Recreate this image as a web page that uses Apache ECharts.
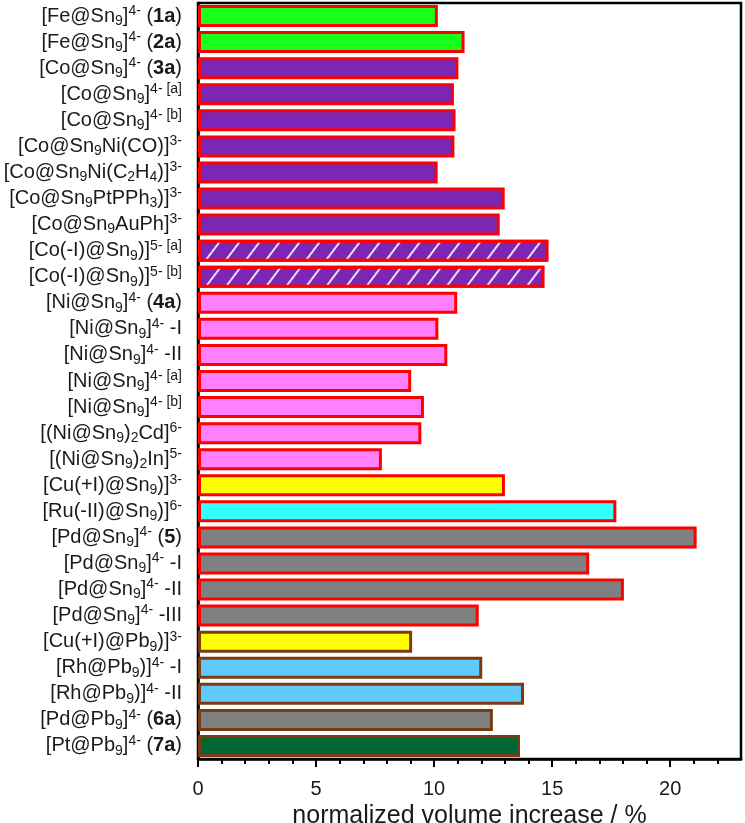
<!DOCTYPE html>
<html>
<head>
<meta charset="utf-8">
<script src="https://cdn.jsdelivr.net/npm/echarts@6/dist/echarts.min.js"></script>
<style>
  html, body { margin: 0; padding: 0; background: #fff; }
  #chart { width: 745px; height: 823px; }
</style>
</head>
<body>
<div id="chart"></div>
<script>
// 标签: _{..} 下标, ^{..} 上标, *{..} 粗体
const categories = [
  '[Fe@Sn_{9}]^{4-} (*{1a})',
  '[Fe@Sn_{9}]^{4-} (*{2a})',
  '[Co@Sn_{9}]^{4-} (*{3a})',
  '[Co@Sn_{9}]^{4- [a]}',
  '[Co@Sn_{9}]^{4- [b]}',
  '[Co@Sn_{9}Ni(CO)]^{3-}',
  '[Co@Sn_{9}Ni(C_{2}H_{4})]^{3-}',
  '[Co@Sn_{9}PtPPh_{3})]^{3-}',
  '[Co@Sn_{9}AuPh]^{3-}',
  '[Co(-I)@Sn_{9})]^{5- [a]}',
  '[Co(-I)@Sn_{9})]^{5- [b]}',
  '[Ni@Sn_{9}]^{4-} (*{4a})',
  '[Ni@Sn_{9}]^{4-} -I',
  '[Ni@Sn_{9}]^{4-} -II',
  '[Ni@Sn_{9}]^{4- [a]}',
  '[Ni@Sn_{9}]^{4- [b]}',
  '[(Ni@Sn_{9})_{2}Cd]^{6-}',
  '[(Ni@Sn_{9})_{2}In]^{5-}',
  '[Cu(+I)@Sn_{9})]^{3-}',
  '[Ru(-II)@Sn_{9})]^{6-}',
  '[Pd@Sn_{9}]^{4-} (*{5})',
  '[Pd@Sn_{9}]^{4-} -I',
  '[Pd@Sn_{9}]^{4-} -II',
  '[Pd@Sn_{9}]^{4-} -III',
  '[Cu(+I)@Pb_{9})]^{3-}',
  '[Rh@Pb_{9})]^{4-} -I',
  '[Rh@Pb_{9})]^{4-} -II',
  '[Pd@Pb_{9}]^{4-} (*{6a})',
  '[Pt@Pb_{9}]^{4-} (*{7a})'
]
const values = [
  10.16, 11.29, 11.03, 10.84, 10.91, 10.86, 10.15, 12.99, 12.78, 14.84, 14.67,
  10.98, 10.18, 10.56, 9.03, 9.57, 9.46, 7.79, 13.0, 17.72,
  21.12, 16.57, 18.04, 11.89, 9.07, 12.04, 13.81, 12.49, 13.64
]
// 中心金属 / 笼
const metals = [
  'Fe', 'Fe', 'Co', 'Co', 'Co', 'Co', 'Co', 'Co', 'Co', 'Co-I', 'Co-I',
  'Ni', 'Ni', 'Ni', 'Ni', 'Ni', 'Ni', 'Ni', 'Cu', 'Ru',
  'Pd', 'Pd', 'Pd', 'Pd', 'Cu', 'Rh', 'Rh', 'Pd', 'Pt'
]
const cages = [
  'Sn', 'Sn', 'Sn', 'Sn', 'Sn', 'Sn', 'Sn', 'Sn', 'Sn', 'Sn', 'Sn',
  'Sn', 'Sn', 'Sn', 'Sn', 'Sn', 'Sn', 'Sn', 'Sn', 'Sn',
  'Sn', 'Sn', 'Sn', 'Sn', 'Pb', 'Pb', 'Pb', 'Pb', 'Pb'
]
const majorTicks = [0, 5, 10, 15, 20]
const minorTicks = [1, 2, 3, 4, 6, 7, 8, 9, 11, 12, 13, 14, 16, 17, 18, 19, 21, 22]

const fillColor = {
  Fe: '#19ff19', Co: '#7b26b5', 'Co-I': '#7b26b5', Ni: '#ff80ff', Cu: '#ffff00',
  Ru: '#33ffff', Pd: '#808080', Rh: '#60cbfb', Pt: '#006633'
}
const edgeColor = { Sn: '#ff0000', Pb: '#7a3b12' }
const FONT = 'Liberation Sans, Arial, sans-serif'
const TXT = '#1a1a1a'

// 转成富文本
function toRich(s) {
  let out = ''
  let last = 0
  const re = /(_|\^|\*)\{([^}]*)\}/g
  let m
  while ((m = re.exec(s)) !== null) {
    if (m.index > last) out += '{n|' + s.slice(last, m.index) + '}'
    const key = m[1] === '_' ? 'sub' : m[1] === '^' ? 'sup' : 'b'
    out += '{' + key + '|' + m[2] + '}'
    last = re.lastIndex
  }
  if (last < s.length) out += '{n|' + s.slice(last) + '}'
  return out
}

const chart = echarts.init(document.getElementById('chart'))

const seriesData = values.map((v, i) => {
  const style = {
    color: fillColor[metals[i]],
    borderColor: edgeColor[cages[i]],
    borderWidth: 3
  }
  if (metals[i] === 'Co-I') {
    style.decal = {
      symbol: 'rect',
      color: 'rgba(255,255,255,0.85)',
      dashArrayX: [[1, 0]],
      dashArrayY: [1.5, 14],
      rotation: -Math.PI / 3.4
    }
  }
  return { value: v, itemStyle: style }
})

const option = {
  animation: false,
  grid: {
    left: 198, right: 4, top: 3, bottom: 64,
    outerBoundsMode: 'none',
    containLabel: false,
    show: true, borderColor: '#000', borderWidth: 2.5, backgroundColor: 'transparent'
  },
  xAxis: [
    {
      type: 'value', min: 0, max: 23, interval: 5, position: 'bottom',
      axisLine: { show: true, lineStyle: { color: '#000', width: 2.5 } },
      axisTick: { show: true, customValues: majorTicks, length: 8, lineStyle: { color: '#000', width: 2 } },
      axisLabel: { customValues: majorTicks, fontSize: 20, fontFamily: FONT, color: TXT, margin: 20 },
      splitLine: { show: false },
      name: 'normalized volume increase / %',
      nameLocation: 'middle',
      nameGap: 41,
      nameTextStyle: { fontSize: 25, fontFamily: FONT, color: TXT }
    },
    {
      type: 'value', min: 0, max: 23, position: 'bottom',
      axisLine: { show: false },
      axisTick: { show: true, customValues: minorTicks, length: 5, lineStyle: { color: '#000', width: 2 } },
      axisLabel: { show: false },
      splitLine: { show: false }
    }
  ],
  yAxis: {
    type: 'category',
    inverse: true,
    data: categories,
    axisLine: { lineStyle: { color: '#000', width: 2.5 } },
    axisTick: { alignWithLabel: true, length: 10, lineStyle: { color: '#000', width: 2 } },
    axisLabel: {
      margin: 16,
      formatter: toRich,
      rich: {
        n: { fontSize: 20, fontFamily: FONT, color: TXT, lineHeight: 24 },
        b: { fontSize: 20, fontFamily: FONT, color: TXT, fontWeight: 'bold', lineHeight: 24 },
        sub: { fontSize: 14, fontFamily: FONT, color: TXT, lineHeight: 12, verticalAlign: 'bottom' },
        sup: { fontSize: 14, fontFamily: FONT, color: TXT, lineHeight: 12, verticalAlign: 'top' }
      }
    }
  },
  series: [
    {
      type: 'bar',
      xAxisIndex: 0,
      barWidth: 22,
      data: seriesData
    }
  ]
}
chart.setOption(option)
</script>
</body>
</html>
